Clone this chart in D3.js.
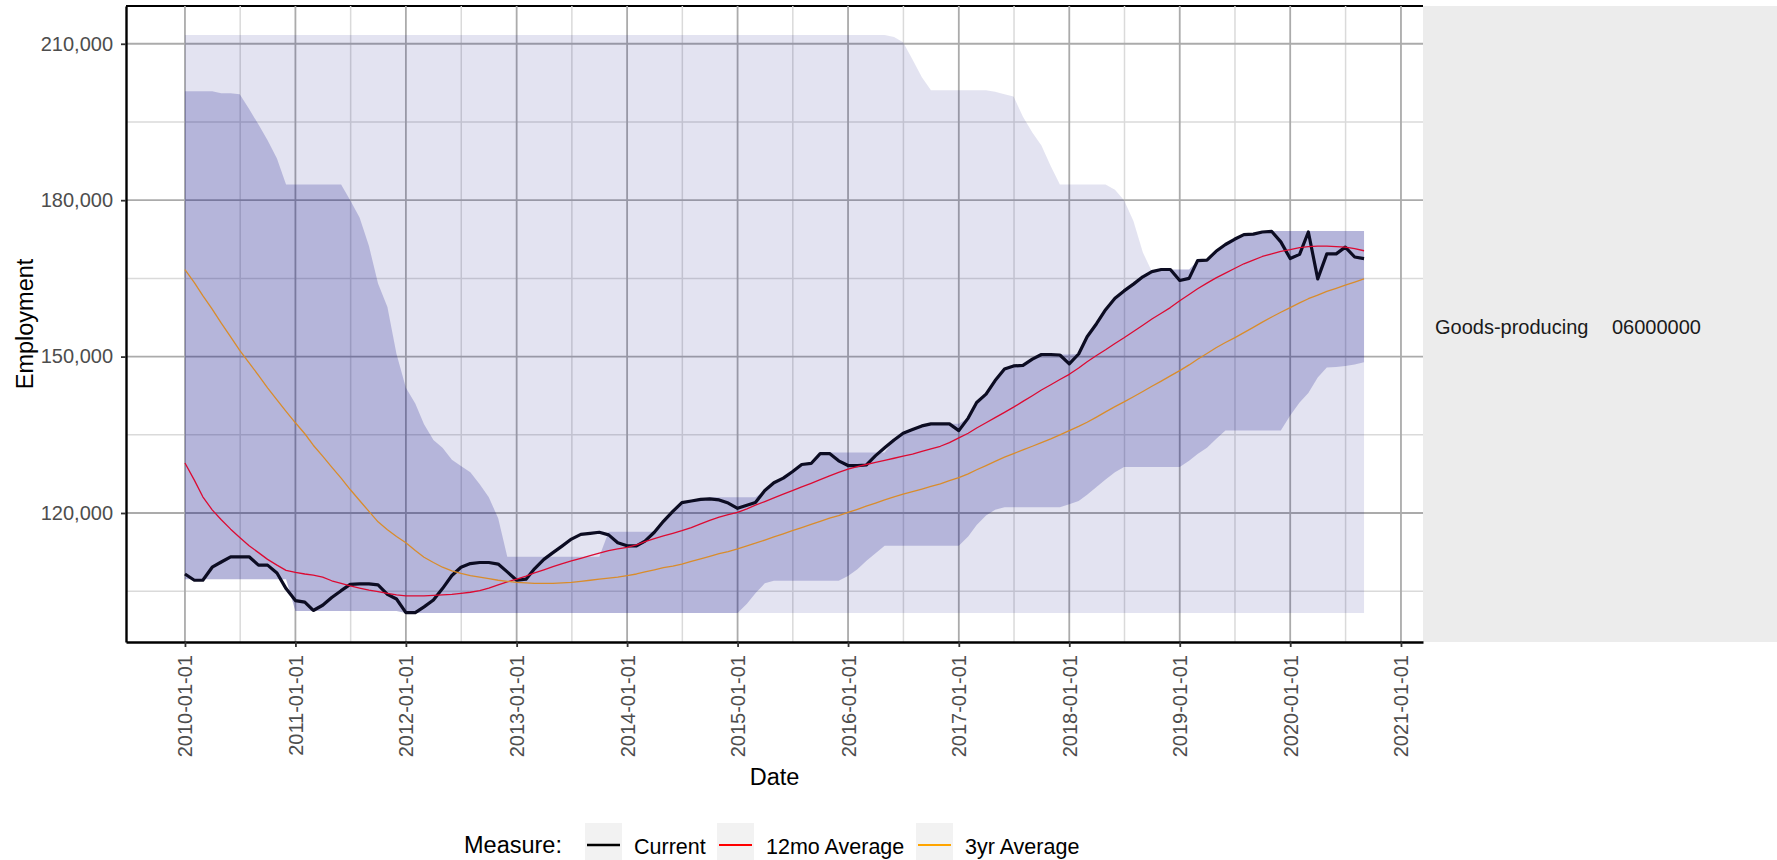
<!DOCTYPE html>
<html>

<head>
    <meta charset="utf-8">
    <style>
        body {
            margin: 0;
            background: #fff;
        }

        svg text {
            font-family: "Liberation Sans", Arial, sans-serif;
        }

        .ribbon-outer {
            fill: #000080;
            fill-opacity: 0.11;
        }

        .ribbon-inner {
            fill: #000080;
            fill-opacity: 0.2;
        }

        .line {
            fill: none;
            stroke-linejoin: round;
        }
    </style>
    <script src="https://d3js.org/d3.v7.min.js"></script>
    <title>Goods-producing employment</title>
</head>

<body>
    <svg id="chart" width="1777" height="860"></svg>
    <script>

        // monthly series, first month 2010-01
        var startMonth = "2010-01-01";

        var current = [
            108300, 107100, 107100, 109600, 110600, 111600, 111600, 111600, 110000, 110000,
            108500, 105500, 103200, 102900, 101300, 102300, 103800, 105100, 106300, 106400,
            106400, 106200, 104400, 103500, 100900, 100900, 102000, 103300, 105500, 108000,
            109600, 110300, 110500, 110500, 110200, 108700, 107100, 107300, 109300, 111100,
            112400, 113700, 115000, 115900, 116100, 116300, 115800, 114300, 113700, 113700,
            114600, 116300, 118400, 120300, 122000, 122300, 122600, 122700, 122500, 121900,
            120900, 121500, 122000, 124300, 125800, 126700, 127900, 129300, 129500, 131400,
            131400, 130000, 129100, 129100, 129200, 131000, 132500, 134000, 135300, 136000,
            136700, 137100, 137100, 137100, 135800, 138200, 141200, 142800, 145400, 147600,
            148200, 148300, 149500, 150400, 150400, 150300, 148600, 150500, 153800, 156300,
            159000, 161200, 162600, 163900, 165300, 166300, 166700, 166700, 164600, 165000,
            168400, 168500, 170200, 171500, 172500, 173400, 173500, 173900, 174000, 172000,
            168800, 169600, 173900, 164900, 169700, 169700, 171000, 169100, 168800
        ];

        var avg12mo = [
            129600, 126300, 123100, 120600, 118700, 116900, 115300, 113700, 112400, 111100,
            110000, 109000, 108600, 108300, 108100, 107700, 107000, 106500, 106000, 105600,
            105200, 104900, 104600, 104300, 104100, 104100, 104100, 104200, 104300, 104400,
            104600, 104800, 105100, 105600, 106200, 106800, 107300, 107900, 108500, 109100,
            109700, 110300, 110800, 111300, 111800, 112300, 112800, 113100, 113400, 113900,
            114500, 115100, 115600, 116100, 116600, 117200, 117900, 118600, 119200, 119700,
            120100, 120800, 121500, 122200, 122900, 123600, 124300, 125000, 125700, 126400,
            127100, 127800, 128400, 128900, 129300, 129700, 130100, 130500, 130900, 131300,
            131800, 132300, 132800, 133500, 134400, 135300, 136300, 137300, 138300, 139300,
            140300, 141400, 142500, 143600, 144600, 145600, 146600, 147800, 149000, 150200,
            151300, 152500, 153600, 154800, 156000, 157200, 158300, 159400, 160700, 161900,
            163000, 164100, 165100, 166000, 166900, 167800, 168500, 169200, 169700, 170200,
            170500, 170900, 171100, 171200, 171200, 171100, 171000, 170700, 170300
        ];

        var avg3yr = [
            166700, 164200, 161700, 159100, 156400, 153800, 151200, 148800, 146400, 144000,
            141700, 139500, 137300, 135200, 133000, 130900, 128800, 126700, 124500, 122400,
            120300, 118300, 116800, 115500, 114300, 112800, 111500, 110500, 109600, 108900,
            108400, 108000, 107700, 107400, 107100, 106900, 106700, 106600, 106500, 106500,
            106500, 106600, 106700, 106900, 107100, 107300, 107500, 107700, 108000, 108300,
            108700, 109100, 109500, 109800, 110200, 110700, 111200, 111700, 112200, 112600,
            113100, 113700, 114200, 114800, 115400, 116000, 116600, 117200, 117800, 118400,
            119000, 119500, 120100, 120700, 121300, 121900, 122500, 123100, 123600, 124100,
            124600, 125100, 125600, 126200, 126800, 127500, 128300, 129100, 129900, 130700,
            131400, 132100, 132800, 133500, 134200, 135000, 135800, 136600, 137400, 138400,
            139400, 140400, 141300, 142300, 143300, 144300, 145300, 146300, 147300, 148400,
            149500, 150600, 151700, 152700, 153600, 154600, 155600, 156600, 157600, 158500,
            159400, 160300, 161100, 161800, 162500, 163100, 163700, 164300, 164900
        ];

        // darker band
        var innerLow = [
            107300, 107300, 107300, 107300, 107300, 107300, 107300, 107300, 107300, 107300,
            107300, 107300, 101200, 101200, 101200, 101200, 101200, 101200, 101200, 101200,
            101200, 101200, 101200, 101200, 100800, 100800, 100800, 100800, 100800, 100800,
            100800, 100800, 100800, 100800, 100800, 100800, 100800, 100800, 100800, 100800,
            100800, 100800, 100800, 100800, 100800, 100800, 100800, 100800, 100800, 100800,
            100800, 100800, 100800, 100800, 100800, 100800, 100800, 100800, 100800, 100800,
            100800, 102600, 104600, 106500, 107000, 107000, 107000, 107000, 107000, 107000,
            107000, 107000, 107900, 109200, 110800, 112300, 113700, 113700, 113700, 113700,
            113700, 113700, 113700, 113700, 113700, 115500, 117700, 119500, 120600, 121100,
            121100, 121100, 121100, 121100, 121100, 121100, 121700, 122300, 123500, 125000,
            126400, 127800, 128800, 128800, 128800, 128800, 128800, 128800, 128800, 130000,
            131300, 132500, 134200, 135800, 135800, 135800, 135800, 135800, 135800, 135800,
            138700, 141200, 143000, 146000, 147900, 148000, 148200, 148500, 148900
        ];

        var innerHigh = [
            200900, 200900, 200900, 200900, 200500, 200500, 200300, 197500, 194500, 191500,
            188000, 183000, 183000, 183000, 183000, 183000, 183000, 183000, 180000, 176700,
            171200, 164000, 159500, 150500, 144000, 141000, 137000, 134000, 132500, 130200,
            129000, 127800, 125500, 123000, 119000, 111600, 111600, 111600, 111600, 111600,
            111600, 111600, 111600, 111600, 111600, 111600, 116400, 116400, 116400, 116400,
            116400, 116400, 118400, 120300, 122000, 122300, 122600, 123000, 123000, 123000,
            123000, 123000, 123000, 124300, 125800, 126700, 127900, 129300, 129500, 131400,
            131600, 131600, 131600, 131600, 131600, 131600, 131600, 134000, 135300, 136000,
            136700, 137100, 137100, 137100, 137100, 138200, 141200, 142800, 145400, 147600,
            148200, 148300, 149500, 150400, 150400, 150400, 150400, 150500, 153800, 156300,
            159000, 161200, 162600, 163900, 165300, 166300, 166700, 166700, 166700, 166700,
            168400, 168500, 170200, 171500, 172500, 173400, 173500, 173900, 174100, 174100,
            174100, 174100, 174100, 174100, 174100, 174100, 174100, 174100, 174100
        ];

        // lighter band
        var outerLow = [
            107300, 107300, 107300, 107300, 107300, 107300, 107300, 107300, 107300, 107300,
            107300, 107300, 101200, 101200, 101200, 101200, 101200, 101200, 101200, 101200,
            101200, 101200, 101200, 101200, 100800, 100800, 100800, 100800, 100800, 100800,
            100800, 100800, 100800, 100800, 100800, 100800, 100800, 100800, 100800, 100800,
            100800, 100800, 100800, 100800, 100800, 100800, 100800, 100800, 100800, 100800,
            100800, 100800, 100800, 100800, 100800, 100800, 100800, 100800, 100800, 100800,
            100800, 100800, 100800, 100800, 100800, 100800, 100800, 100800, 100800, 100800,
            100800, 100800, 100800, 100800, 100800, 100800, 100800, 100800, 100800, 100800,
            100800, 100800, 100800, 100800, 100800, 100800, 100800, 100800, 100800, 100800,
            100800, 100800, 100800, 100800, 100800, 100800, 100800, 100800, 100800, 100800,
            100800, 100800, 100800, 100800, 100800, 100800, 100800, 100800, 100800, 100800,
            100800, 100800, 100800, 100800, 100800, 100800, 100800, 100800, 100800, 100800,
            100800, 100800, 100800, 100800, 100800, 100800, 100800, 100800, 100800
        ];

        var outerHigh = [
            211700, 211700, 211700, 211700, 211700, 211700, 211700, 211700, 211700, 211700,
            211700, 211700, 211700, 211700, 211700, 211700, 211700, 211700, 211700, 211700,
            211700, 211700, 211700, 211700, 211700, 211700, 211700, 211700, 211700, 211700,
            211700, 211700, 211700, 211700, 211700, 211700, 211700, 211700, 211700, 211700,
            211700, 211700, 211700, 211700, 211700, 211700, 211700, 211700, 211700, 211700,
            211700, 211700, 211700, 211700, 211700, 211700, 211700, 211700, 211700, 211700,
            211700, 211700, 211700, 211700, 211700, 211700, 211700, 211700, 211700, 211700,
            211700, 211700, 211700, 211700, 211700, 211700, 211700, 211300, 210300, 207000,
            203600, 201100, 201100, 201100, 201100, 201100, 201100, 201100, 200800, 200300,
            199900, 196000, 193000, 190500, 186500, 183000, 183000, 183000, 183000, 183000,
            183000, 182000, 180000, 176000, 170000, 166300, 166700, 166700, 166700, 166700,
            168400, 168500, 170200, 171500, 172500, 173400, 173500, 173900, 174100, 174100,
            174100, 174100, 174100, 174100, 174100, 174100, 174100, 174100, 174100
        ];

        var yTicks = [120000, 150000, 180000, 210000];
        var yMinor = [105000, 135000, 165000, 195000];
        var xTickYears = [2010, 2011, 2012, 2013, 2014, 2015, 2016, 2017, 2018, 2019, 2020, 2021];

        var stripLabels = ["Goods-producing", "06000000"];
        var legendTitle = "Measure:";
        var measures = ["Current", "12mo Average", "3yr Average"];
        var measureColors = ["#000000", "#ff0000", "#ffa500"];

        function drawChart() {
            var svg = d3.select("svg#chart");

            // panel box, measured on the reference
            var panel = { left: 126, right: 1423, top: 6, bottom: 642 };

            var months = d3.utcMonth.range(new Date(startMonth), d3.utcMonth.offset(new Date(startMonth), current.length));

            var rows = months.map(function (d, i) {
                return {
                    date: d,
                    current: current[i],
                    avg12mo: avg12mo[i],
                    avg3yr: avg3yr[i],
                    innerLow: innerLow[i],
                    innerHigh: innerHigh[i],
                    outerLow: outerLow[i],
                    outerHigh: outerHigh[i]
                };
            });

            // ggplot style 5% expansion on both scales
            var xExt = d3.extent(months, function (d) { return +d; });
            var xPad = (xExt[1] - xExt[0]) * 0.05;
            var x = d3.scaleUtc()
                .domain([new Date(xExt[0] - xPad), new Date(xExt[1] + xPad)])
                .range([panel.left, panel.right]);

            var allVals = [].concat(current, avg12mo, avg3yr, innerLow, innerHigh, outerLow, outerHigh);
            var yExt = d3.extent(allVals);
            var yPad = (yExt[1] - yExt[0]) * 0.05;
            var y = d3.scaleLinear()
                .domain([yExt[0] - yPad, yExt[1] + yPad])
                .range([panel.bottom, panel.top]);

            var yearDates = xTickYears.map(function (yr) { return new Date(Date.UTC(yr, 0, 1)); });
            var midDates = [];
            for (var i = 0; i < yearDates.length - 1; i++) {
                midDates.push(new Date((+yearDates[i] + +yearDates[i + 1]) / 2));
            }

            // strip on the right
            svg.append("rect")
                .attr("x", panel.right)
                .attr("y", panel.top)
                .attr("width", 1777 - panel.right)
                .attr("height", panel.bottom - panel.top)
                .attr("fill", "#ececec");

            svg.append("text")
                .attr("x", panel.right + 12)
                .attr("y", (panel.top + panel.bottom) / 2 + 3)
                .attr("dy", "0.35em")
                .attr("font-size", 20)
                .attr("fill", "#1a1a1a")
                .text(stripLabels[0]);

            svg.append("text")
                .attr("x", panel.right + 189)
                .attr("y", (panel.top + panel.bottom) / 2 + 3)
                .attr("dy", "0.35em")
                .attr("font-size", 20)
                .attr("fill", "#1a1a1a")
                .text(stripLabels[1]);

            // top border, grid goes over it
            svg.append("line")
                .attr("x1", panel.left).attr("x2", panel.right)
                .attr("y1", panel.top).attr("y2", panel.top)
                .attr("stroke", "#000").attr("stroke-width", 2.2);

            var grid = svg.append("g").attr("class", "grid");

            grid.selectAll(".hminor").data(yMinor).enter().append("line")
                .attr("x1", panel.left).attr("x2", panel.right)
                .attr("y1", function (d) { return y(d); })
                .attr("y2", function (d) { return y(d); })
                .attr("stroke", "#dadada").attr("stroke-width", 1.5);

            grid.selectAll(".vminor").data(midDates).enter().append("line")
                .attr("y1", panel.top).attr("y2", panel.bottom)
                .attr("x1", function (d) { return x(d); })
                .attr("x2", function (d) { return x(d); })
                .attr("stroke", "#dadada").attr("stroke-width", 1.5);

            grid.selectAll(".hmajor").data(yTicks).enter().append("line")
                .attr("x1", panel.left).attr("x2", panel.right)
                .attr("y1", function (d) { return y(d); })
                .attr("y2", function (d) { return y(d); })
                .attr("stroke", "#ababab").attr("stroke-width", 1.8);

            grid.selectAll(".vmajor").data(yearDates).enter().append("line")
                .attr("y1", panel.top).attr("y2", panel.bottom)
                .attr("x1", function (d) { return x(d); })
                .attr("x2", function (d) { return x(d); })
                .attr("stroke", "#ababab").attr("stroke-width", 1.8);

            // bands
            var outerArea = d3.area()
                .x(function (d) { return x(d.date); })
                .y0(function (d) { return y(d.outerLow); })
                .y1(function (d) { return y(d.outerHigh); });

            var innerArea = d3.area()
                .x(function (d) { return x(d.date); })
                .y0(function (d) { return y(d.innerLow); })
                .y1(function (d) { return y(d.innerHigh); });

            svg.append("path").datum(rows).attr("class", "ribbon-outer").attr("d", outerArea);
            svg.append("path").datum(rows).attr("class", "ribbon-inner").attr("d", innerArea);

            // lines
            var keys = ["current", "avg12mo", "avg3yr"];
            var widths = [3.2, 1.3, 1.3];
            var plotColors = ["#0c0c22", "#dc0a32", "#d98c2b"];

            keys.forEach(function (k, i) {
                var line = d3.line()
                    .x(function (d) { return x(d.date); })
                    .y(function (d) { return y(d[k]); });
                svg.append("path")
                    .datum(rows)
                    .attr("class", "line")
                    .attr("stroke", plotColors[i])
                    .attr("stroke-width", widths[i])
                    .attr("d", line);
            });

            // axes
            var yAxis = svg.append("g")
                .attr("transform", "translate(" + panel.left + ",0)")
                .call(d3.axisLeft(y).tickValues(yTicks).tickFormat(d3.format(","))
                    .tickSize(5).tickSizeOuter(0).tickPadding(8));
            yAxis.attr("font-size", 20).attr("font-family", null);
            yAxis.select(".domain").attr("stroke", "#000").attr("stroke-width", 2.4);
            yAxis.selectAll(".tick line").attr("stroke", "#333").attr("stroke-width", 1.8);
            yAxis.selectAll(".tick text").attr("fill", "#4d4d4d");

            var xAxis = svg.append("g")
                .attr("transform", "translate(0," + panel.bottom + ")")
                .call(d3.axisBottom(x).tickValues(yearDates).tickFormat(d3.utcFormat("%Y-%m-%d"))
                    .tickSize(5).tickSizeOuter(0));
            xAxis.attr("font-size", 20).attr("font-family", null);
            xAxis.select(".domain").attr("stroke", "#000").attr("stroke-width", 2.4);
            xAxis.selectAll(".tick line").attr("stroke", "#333").attr("stroke-width", 1.8);
            xAxis.selectAll(".tick text")
                .attr("fill", "#4d4d4d")
                .attr("transform", "rotate(-90)")
                .attr("text-anchor", "end")
                .attr("x", -13)
                .attr("y", 0)
                .attr("dy", "0.35em");

            // axis titles
            svg.append("text")
                .attr("transform", "translate(33," + (panel.top + panel.bottom) / 2 + ") rotate(-90)")
                .attr("text-anchor", "middle")
                .attr("font-size", 23.5)
                .attr("fill", "#000")
                .text("Employment");

            svg.append("text")
                .attr("x", (panel.left + panel.right) / 2)
                .attr("y", 785)
                .attr("text-anchor", "middle")
                .attr("font-size", 23.5)
                .attr("fill", "#000")
                .text("Date");

            // legend
            var legend = svg.append("g");
            legend.append("text")
                .attr("x", 464).attr("y", 853)
                .attr("font-size", 23.5)
                .attr("fill", "#000")
                .text(legendTitle);

            var keyX = [585, 717, 916];
            measures.forEach(function (m, i) {
                legend.append("rect")
                    .attr("x", keyX[i]).attr("y", 823)
                    .attr("width", 37).attr("height", 44)
                    .attr("fill", "#f2f2f2");
                legend.append("line")
                    .attr("x1", keyX[i] + 2).attr("x2", keyX[i] + 35)
                    .attr("y1", 845).attr("y2", 845)
                    .attr("stroke", measureColors[i])
                    .attr("stroke-width", i === 0 ? 2.6 : 2);
                legend.append("text")
                    .attr("x", keyX[i] + 49).attr("y", 854)
                    .attr("font-size", 21.5)
                    .attr("fill", "#000")
                    .text(m);
            });
        }

        drawChart();

    </script>
</body>

</html>
